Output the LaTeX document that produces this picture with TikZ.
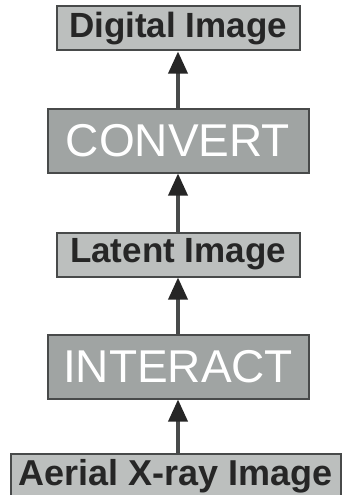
\documentclass[tikz,border=0pt]{standalone}
\usepackage{fontspec}
\setmainfont{Liberation Sans}
\usetikzlibrary{positioning,arrows.meta}
\definecolor{boxgray}{RGB}{188,191,190}
\definecolor{stepgray}{RGB}{160,164,163}
\definecolor{edgegray}{RGB}{72,74,74}

\begin{document}
\begin{tikzpicture}[x=1pt, y=-1pt, node distance=56pt,
	image node/.style={rectangle,draw=edgegray,line width=2pt,fill=boxgray,inner sep=0pt,
		minimum width=243pt,minimum height=44pt,text=black!85,font=\fontsize{35}{40}\selectfont\bfseries},
	step node/.style={rectangle,draw=edgegray,line width=2pt,fill=stepgray,inner sep=0pt,
		minimum width=261pt,minimum height=64pt,text=white,font=\fontsize{46}{50}\selectfont}]
	
	\useasboundingbox (0,0) rectangle (344,495);
	\clip (0,0) rectangle (344,495);
	
	\node[step node] (4) at (178,366.5) {INTERACT};
	\node[image node] (3) [above=of 4] {Latent Image};
	\node[step node] (2) [above=58pt of 3] {CONVERT};
	\node[image node] (1) [above=of 2] {Digital Image};
	\node[image node,minimum width=330pt,minimum height=46pt,font=\fontsize{36}{40}\selectfont\bfseries] (5) [below=53pt of 4,xshift=-2.5pt] {Aerial X-ray Image};
	\coordinate (5in) at (5.north -| 4.south);
	
	\path[every edge/.style={draw=edgegray,line width=3.5pt,-{Triangle[length=22pt,width=19pt,color=black!85]}}]
	(2) edge (1)
	(3) edge (2)
	(4) edge (3)
	(5in) edge (4);
\end{tikzpicture}
\end{document}
